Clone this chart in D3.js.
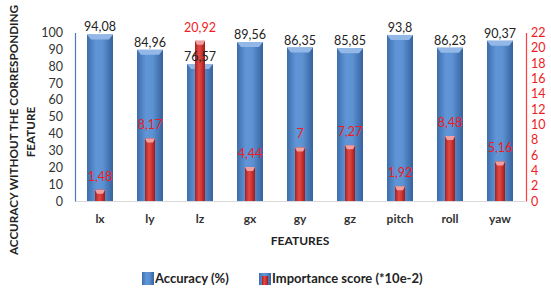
<!DOCTYPE html>
<html><head><meta charset="utf-8">
<script src="https://cdnjs.cloudflare.com/ajax/libs/d3/7.8.5/d3.min.js"></script>
<style>body{margin:0;background:#fff}svg{display:block;font-family:Lato,"Open Sans",sans-serif}</style>
</head><body><div id="chart"></div>
<script>
const categories = ["lx","ly","lz","gx","gy","gz","pitch","roll","yaw"];
const accuracy = [94.08,84.96,76.57,89.56,86.35,85.85,93.8,86.23,90.37];
const accuracyLabels = ["94,08","84,96","76,57","89,56","86,35","85,85","93,8","86,23","90,37"];
const importance = [1.48,8.17,20.92,4.44,7,7.27,1.92,8.48,5.16];
const importanceLabels = ["1,48","8,17","20,92","4,44","7","7,27","1,92","8,48","5,16"];
const leftTicks = [0,10,20,30,40,50,60,70,80,90,100];
const rightTicks = [0,2,4,6,8,10,12,14,16,18,20,22];

const W=551,H=291;
const svg=d3.select("#chart").append("svg").attr("width",W).attr("height",H);
const m={l:75,r:525,t:32.5,b:201};
const x=d3.scaleBand().domain(categories).range([m.l,m.r]).paddingInner(0).paddingOuter(0);
const yL=d3.scaleLinear().domain([0,100]).range([m.b,m.t]);
const yR=d3.scaleLinear().domain([0,22]).range([m.b,m.t]);

const defs=svg.append("defs");
const gb=defs.append("linearGradient").attr("id","gBlue");
[["0%","#3d6eab"],["35%","#6096d8"],["60%","#5d92d2"],["100%","#36629e"]].forEach(s=>gb.append("stop").attr("offset",s[0]).attr("stop-color",s[1]));
const gr=defs.append("linearGradient").attr("id","gRed");
[["0%","#a8201e"],["40%","#e04a45"],["60%","#d83a36"],["100%","#9a1c1a"]].forEach(s=>gr.append("stop").attr("offset",s[0]).attr("stop-color",s[1]));

svg.append("line").attr("x1",m.l).attr("x2",m.r).attr("y1",m.b+0.5).attr("y2",m.b+0.5).attr("stroke","#d9d9d9");

const bw=26, rw=10, depth=8;
const cx=d=>x(d)+x.bandwidth()/2;
const bars=svg.append("g");
categories.forEach((c,i)=>{
  const top=yL(accuracy[i])-depth;
  bars.append("rect").attr("x",cx(c)-bw/2).attr("y",top).attr("width",bw).attr("height",m.b-top).attr("fill","url(#gBlue)");
  bars.append("path").attr("d",`M${cx(c)-bw/2},${top}L${cx(c)+bw/2},${top}L${cx(c)+bw/2-4},${top+5}L${cx(c)-bw/2+4},${top+5}Z`).attr("fill","#93b8e8");
});
categories.forEach((c,i)=>{
  const top=yR(importance[i]);
  bars.append("rect").attr("x",cx(c)-rw/2).attr("y",top).attr("width",rw).attr("height",m.b-top).attr("fill","url(#gRed)");
  bars.append("path").attr("d",`M${cx(c)-rw/2},${top}L${cx(c)+rw/2},${top}L${cx(c)+rw/2-2},${top+4}L${cx(c)-rw/2+2},${top+4}Z`).attr("fill","#f0a0a0");
});
categories.forEach((c,i)=>{
  svg.append("text").attr("x",cx(c)).attr("y",yL(accuracy[i])-depth-3).attr("text-anchor","middle").attr("font-size",12.5).attr("fill","#222").text(accuracyLabels[i]);
  svg.append("text").attr("x",cx(c)).attr("y",yR(importance[i])-9).attr("text-anchor","middle").attr("font-size",12.5).attr("fill","#ee1c25").text(importanceLabels[i]);
});

const la=svg.append("g").attr("transform",`translate(${m.l},0)`).call(d3.axisLeft(yL).tickValues(leftTicks).tickSize(0).tickPadding(12));
la.select(".domain").attr("stroke","#4a7ebb").attr("stroke-width",1.2);
la.selectAll("text").attr("font-size",12.5).attr("fill","#333").attr("font-family","Lato");
const ra=svg.append("g").attr("transform",`translate(${m.r+1},0)`).call(d3.axisRight(yR).tickValues(rightTicks).tickSize(0).tickPadding(5));
ra.select(".domain").attr("stroke","#ff3b3b").attr("stroke-width",1.2);
ra.selectAll("text").attr("font-size",12.5).attr("fill","#ee1c25").attr("font-family","Lato");
const xa=svg.append("g").attr("transform",`translate(0,${m.b})`).call(d3.axisBottom(x).tickSize(0).tickPadding(13));
xa.select(".domain").remove();
xa.selectAll("text").attr("font-size",12).attr("font-weight","bold").attr("fill","#333").attr("font-family","Lato");

svg.append("text").attr("x",300).attr("y",245).attr("text-anchor","middle").attr("font-size",12).attr("font-weight","bold").attr("fill","#222").text("FEATURES");
svg.append("text").attr("transform","translate(18,130) rotate(-90)").attr("text-anchor","middle").attr("font-size",11.7).attr("font-weight","bold").attr("fill","#222").text("ACCURACY WITHOUT THE CORRESPONDING");
svg.append("text").attr("transform","translate(35,132) rotate(-90)").attr("text-anchor","middle").attr("font-size",11.7).attr("font-weight","bold").attr("fill","#222").text("FEATURE");

const lg=svg.append("g");
lg.append("rect").attr("x",142).attr("y",272).attr("width",12).attr("height",13).attr("fill","url(#gBlue)");
lg.append("text").attr("x",155).attr("y",283).attr("font-size",13).attr("font-weight","bold").attr("fill","#222").text("Accuracy (%)");
lg.append("rect").attr("x",259).attr("y",273).attr("width",12).attr("height",12).attr("fill","url(#gBlue)");
lg.append("rect").attr("x",262).attr("y",276).attr("width",6).attr("height",9).attr("fill","url(#gRed)");
lg.append("text").attr("x",272).attr("y",283).attr("font-size",13).attr("font-weight","bold").attr("fill","#222").text("Importance score (*10e-2)");
</script></body></html>
